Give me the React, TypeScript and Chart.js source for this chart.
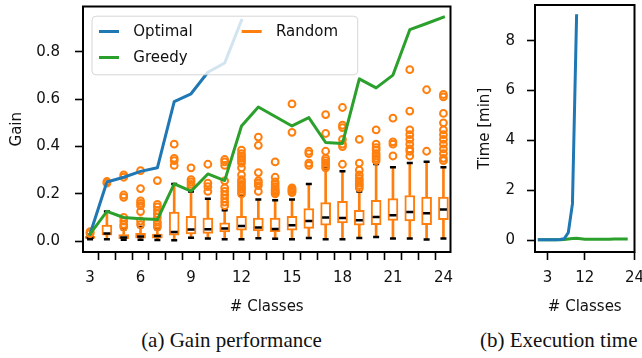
import React, { useEffect, useRef } from 'react';
import { Chart, registerables } from 'chart.js';

Chart.register(...registerables);
Chart.defaults.font.family = '"DejaVu Sans", sans-serif';
Chart.defaults.font.size = 15;
Chart.defaults.color = '#111';

// ---------- data ----------
const classes = [3, 4, 5, 6, 7, 8, 9, 10, 11, 12, 13, 14, 15, 16, 17, 18, 19, 20, 21, 22, 23, 24];
const seriesNames = ['Optimal', 'Greedy', 'Random'];

const optimalGain = [0.03, 0.25, 0.27, 0.295, 0.31, 0.59, 0.623, 0.714, 0.753, 0.933];
const greedyGain = [0.03, 0.126, 0.1, 0.095, 0.091, 0.242, 0.211, 0.284, 0.256, 0.487, 0.567, 0.527,
  0.487, 0.522, 0.417, 0.413, 0.686, 0.648, 0.702, 0.894, 0.92, 0.947];

const randomLow = [0.008, 0.008, 0.006, 0.006, 0.005, 0.004, 0.014, 0.011, 0.008, 0.008, 0.012, 0.01,
  0.008, 0.013, 0.008, 0.008, 0.013, 0.017, 0.011, 0.011, 0.007, 0.011];
const randomQ1 = [0.011, 0.025, 0.01, 0.012, 0.012, 0.025, 0.03, 0.033, 0.039, 0.046, 0.043, 0.04,
  0.046, 0.054, 0.067, 0.077, 0.067, 0.07, 0.088, 0.085, 0.07, 0.091];
const randomMedian = [0.014, 0.032, 0.015, 0.02, 0.022, 0.039, 0.049, 0.05, 0.053, 0.064, 0.058, 0.051,
  0.067, 0.085, 0.1, 0.098, 0.088, 0.102, 0.109, 0.123, 0.118, 0.134];
const randomQ3 = [0.02, 0.068, 0.028, 0.033, 0.03, 0.123, 0.105, 0.097, 0.077, 0.105, 0.097, 0.097,
  0.105, 0.138, 0.163, 0.168, 0.13, 0.172, 0.18, 0.193, 0.186, 0.186];
const randomHigh = [0.027, 0.125, 0.05, 0.06, 0.05, 0.242, 0.21, 0.179, 0.13, 0.193, 0.176, 0.173,
  0.176, 0.242, 0.308, 0.295, 0.21, 0.326, 0.312, 0.33, 0.336, 0.312];
const randomOutliers = [
  [0.032, 0.036, 0.04],
  [0.245, 0.252],
  [0.06, 0.07, 0.085, 0.1, 0.185, 0.195, 0.27, 0.28],
  [0.07, 0.085, 0.125, 0.15, 0.16, 0.17, 0.222, 0.298],
  [0.06, 0.07, 0.08, 0.1, 0.115, 0.13, 0.145, 0.155, 0.256],
  [0.32, 0.34, 0.35, 0.41],
  [0.23, 0.24, 0.25, 0.26, 0.31],
  [0.21, 0.23, 0.245, 0.325],
  [0.15, 0.165, 0.18, 0.195, 0.21, 0.225, 0.255, 0.32, 0.335, 0.345],
  [0.2, 0.21, 0.22, 0.23, 0.24, 0.25, 0.26, 0.28, 0.31, 0.33, 0.34, 0.35, 0.36, 0.37, 0.385],
  [0.21, 0.235, 0.245, 0.255, 0.29, 0.405, 0.44],
  [0.2, 0.205, 0.21, 0.215, 0.22, 0.23, 0.24, 0.25, 0.27, 0.335],
  [0.205, 0.21, 0.215, 0.22, 0.225, 0.46, 0.58],
  [0.32, 0.33, 0.37, 0.38],
  [0.31, 0.32, 0.33, 0.34, 0.35, 0.38, 0.455, 0.535],
  [0.325, 0.4, 0.41, 0.43, 0.48, 0.49, 0.565],
  [0.225, 0.235, 0.245, 0.255, 0.265, 0.28, 0.3, 0.33, 0.43],
  [0.34, 0.35, 0.36, 0.37, 0.385, 0.395, 0.41, 0.47],
  [0.36, 0.41, 0.42, 0.52],
  [0.36, 0.38, 0.39, 0.41, 0.43, 0.45, 0.47, 0.55, 0.725],
  [0.38, 0.64],
  [0.34, 0.35, 0.37, 0.39, 0.41, 0.43, 0.45, 0.47, 0.5, 0.54, 0.61, 0.62],
];

const gainTicks = [0, 0.2, 0.4, 0.6, 0.8];

// execution time panel (x positions as plotted in the original: 1..22)
const timeSteps = [1, 2, 3, 4, 5, 6, 7, 8, 9, 10, 11, 12, 13, 14, 15, 16, 17, 18, 19, 20, 21, 22];
const optimalTime = [0.01, 0.01, 0.01, 0.01, 0.01, 0.02, 0.05, 0.3, 1.45, 9.0];
const greedyTime = [0.01, 0.01, 0.01, 0.01, 0.01, 0.01, 0.02, 0.04, 0.06, 0.07, 0.05, 0.03, 0.03,
  0.03, 0.03, 0.03, 0.03, 0.03, 0.04, 0.04, 0.04, 0.04];
const timeTicks = [0, 2, 4, 6, 8];
const timeXTicks = [3, 12, 24];

// ---------- styles ----------
const BLUE = '#1f77b4';
const GREEN = '#2ca02c';
const ORANGE = '#ff7f0e';
const FONT = '"DejaVu Sans", sans-serif';

const framePlugin = {
  id: 'frame',
  afterDatasetsDraw(chart: any) {
    const { ctx, chartArea } = chart;
    ctx.save();
    ctx.strokeStyle = '#000';
    ctx.lineWidth = 2;
    ctx.strokeRect(chartArea.left, chartArea.top, chartArea.right - chartArea.left, chartArea.bottom - chartArea.top);
    ctx.restore();
  },
};

const legendPlugin = {
  id: 'gainLegend',
  afterDraw(chart: any) {
    const { ctx, chartArea } = chart;
    const x = chartArea.left + 9;
    const y = chartArea.top + 9.7;
    const w = 265.7;
    const h = 58.6;
    ctx.save();
    ctx.beginPath();
    ctx.roundRect(x, y, w, h, 4);
    ctx.fillStyle = 'rgba(255,255,255,0.8)';
    ctx.fill();
    ctx.strokeStyle = 'rgba(204,204,204,0.8)';
    ctx.lineWidth = 1;
    ctx.stroke();
    const colors = [BLUE, GREEN, ORANGE];
    const pos = [
      [x + 7, y + 15.3],
      [x + 7, y + 41.3],
      [x + 149.7, y + 15.3],
    ];
    ctx.font = '15px ' + FONT;
    ctx.textBaseline = 'middle';
    ctx.textAlign = 'left';
    seriesNames.forEach((name, i) => {
      const [px, py] = pos[i];
      ctx.beginPath();
      ctx.moveTo(px, py);
      ctx.lineTo(px + 20, py);
      ctx.strokeStyle = colors[i];
      ctx.lineWidth = 3;
      ctx.stroke();
      ctx.fillStyle = '#111';
      ctx.fillText(name, px + 34.3, py + 0.5);
    });
    ctx.restore();
  },
};

const tickGrid = {
  display: true,
  drawOnChartArea: false,
  drawTicks: true,
  tickLength: 8,
  tickWidth: 1.6,
  tickColor: '#000',
  color: '#000',
};

function GainChart() {
  const ref = useRef<HTMLCanvasElement>(null);
  useEffect(() => {
    const boxes = classes.map((c, i) => ({ x: c, y: [randomQ1[i], randomQ3[i]] }));
    const lowW = classes.map((c, i) => ({ x: c, y: [randomLow[i], randomQ1[i]] }));
    const highW = classes.map((c, i) => ({ x: c, y: [randomQ3[i], randomHigh[i]] }));
    const caps = classes.flatMap((c, i) => [{ x: c, y: randomLow[i] }, { x: c, y: randomHigh[i] }]);
    const medians = classes.map((c, i) => ({ x: c, y: randomMedian[i] }));
    const outliers = classes.flatMap((c, i) => randomOutliers[i].map((v) => ({ x: c, y: v })));

    const chart = new Chart(ref.current as HTMLCanvasElement, {
      type: 'scatter',
      data: {
        datasets: [
          {
            type: 'line', label: seriesNames[0],
            data: optimalGain.map((v, i) => ({ x: classes[i], y: v })),
            borderColor: BLUE, borderWidth: 3, pointRadius: 0, tension: 0,
            borderJoinStyle: 'round', borderCapStyle: 'square', order: 1,
          },
          {
            type: 'line', label: seriesNames[1],
            data: greedyGain.map((v, i) => ({ x: classes[i], y: v })),
            borderColor: GREEN, borderWidth: 3, pointRadius: 0, tension: 0,
            borderJoinStyle: 'round', borderCapStyle: 'square', order: 0,
          },
          {
            type: 'bar', label: 'whiskerLow', data: lowW, backgroundColor: ORANGE,
            borderWidth: 0, barThickness: 2, grouped: false, order: 10,
          },
          {
            type: 'bar', label: 'whiskerHigh', data: highW, backgroundColor: ORANGE,
            borderWidth: 0, barThickness: 2, grouped: false, order: 10,
          },
          {
            type: 'bar', label: seriesNames[2], data: boxes, backgroundColor: '#ffffff',
            borderColor: ORANGE, borderWidth: 2, borderSkipped: false, barThickness: 10,
            grouped: false, order: 9,
          },
          {
            type: 'scatter', label: 'caps', data: caps, pointStyle: 'line', pointRadius: 3,
            pointBorderWidth: 2.5, pointBorderColor: '#000', borderColor: '#000', order: 8,
          },
          {
            type: 'scatter', label: 'medians', data: medians, pointStyle: 'line', pointRadius: 3.5,
            pointBorderWidth: 2.5, pointBorderColor: '#000', borderColor: '#000', order: 8,
          },
          {
            type: 'scatter', label: 'outliers', data: outliers, pointStyle: 'circle', pointRadius: 3.4,
            pointBorderWidth: 2, pointBorderColor: ORANGE, borderColor: ORANGE,
            pointBackgroundColor: 'rgba(255,255,255,0)', order: 7,
          },
        ],
      } as any,
      options: {
        animation: false,
        responsive: false,
        devicePixelRatio: 1,
        events: [],
        layout: { padding: { left: 0, top: 5, right: 9.5, bottom: 0 } },
        plugins: { legend: { display: false }, tooltip: { enabled: false } },
        scales: {
          x: {
            type: 'linear', min: 2.58, max: 24.42, offset: false,
            afterBuildTicks: (s: any) => { s.ticks = classes.map((v) => ({ value: v })); },
            afterFit: (s: any) => { s.height = 68; s.paddingLeft = 0; s.paddingRight = 0; },
            ticks: {
              autoSkip: false, maxRotation: 0, padding: 9.5, color: '#111',
              callback: (v: any) => (Number(v) % 3 === 0 ? String(v) : ''),
            },
            grid: tickGrid,
            border: { display: false },
            title: { display: true, text: '# Classes', color: '#111', padding: { top: 0, bottom: 4 } },
          },
          y: {
            type: 'linear', min: -0.046, max: 0.992,
            afterBuildTicks: (s: any) => { s.ticks = gainTicks.map((v) => ({ value: v })); },
            afterFit: (s: any) => { s.width = 83; s.paddingTop = 0; s.paddingBottom = 0; },
            ticks: { padding: 15, color: '#111', callback: (v: any) => Number(v).toFixed(1) },
            grid: tickGrid,
            border: { display: false },
            title: { display: true, text: 'Gain', color: '#111', padding: { top: 8, bottom: 0 } },
          },
        },
      } as any,
      plugins: [framePlugin, legendPlugin],
    });
    return () => chart.destroy();
  }, []);
  return (
    <canvas ref={ref} width={460} height={320}
      style={{ position: 'absolute', left: 0, top: 0, width: 460, height: 320 }} />
  );
}

function TimeChart() {
  const ref = useRef<HTMLCanvasElement>(null);
  useEffect(() => {
    const chart = new Chart(ref.current as HTMLCanvasElement, {
      type: 'line',
      data: {
        datasets: [
          {
            label: seriesNames[1],
            data: greedyTime.map((v, i) => ({ x: timeSteps[i], y: v })),
            borderColor: GREEN, borderWidth: 3, pointRadius: 0, tension: 0,
            borderJoinStyle: 'round', borderCapStyle: 'square', order: 1,
          },
          {
            label: seriesNames[0],
            data: optimalTime.map((v, i) => ({ x: timeSteps[i], y: v })),
            borderColor: BLUE, borderWidth: 3, pointRadius: 0, tension: 0,
            borderJoinStyle: 'round', borderCapStyle: 'square', order: 0,
          },
        ],
      } as any,
      options: {
        animation: false,
        responsive: false,
        devicePixelRatio: 1,
        events: [],
        layout: { padding: { left: 0, top: 5, right: 7.5, bottom: 0 } },
        plugins: { legend: { display: false }, tooltip: { enabled: false } },
        scales: {
          x: {
            type: 'linear', min: -0.05, max: 24, offset: false,
            afterBuildTicks: (s: any) => { s.ticks = timeXTicks.map((v) => ({ value: v })); },
            afterFit: (s: any) => { s.height = 68; s.paddingLeft = 0; s.paddingRight = 0; },
            ticks: { autoSkip: false, maxRotation: 0, padding: 9.5, color: '#111', callback: (v: any) => String(v) },
            grid: tickGrid,
            border: { display: false },
            title: { display: true, text: '# Classes', color: '#111', padding: { top: 0, bottom: 4 } },
          },
          y: {
            type: 'linear', min: -0.48, max: 9.43,
            afterBuildTicks: (s: any) => { s.ticks = timeTicks.map((v) => ({ value: v })); },
            afterFit: (s: any) => { s.width = 75; s.paddingTop = 0; s.paddingBottom = 0; },
            ticks: { padding: 12, color: '#111', callback: (v: any) => String(v) },
            grid: tickGrid,
            border: { display: false },
            title: { display: true, text: 'Time [min]', color: '#111', padding: { top: 16, bottom: 0 } },
          },
        },
      } as any,
      plugins: [framePlugin],
    });
    return () => chart.destroy();
  }, []);
  return (
    <canvas ref={ref} width={182} height={320}
      style={{ position: 'absolute', left: 460, top: 0, width: 182, height: 320 }} />
  );
}

export default function App() {
  const caption: React.CSSProperties = {
    position: 'absolute', top: 328, fontFamily: '"Liberation Serif", serif', fontSize: 21,
    lineHeight: '24px', color: '#111', whiteSpace: 'nowrap',
  };
  return (
    <div style={{ position: 'absolute', left: 0, top: 0, width: 642, height: 358, overflow: 'hidden', background: '#fff' }}>
      <GainChart />
      <TimeChart />
      <div style={{ ...caption, left: 0, width: 463, textAlign: 'center' }}>(a) Gain performance</div>
      <div style={{ ...caption, left: 480 }}>(b) Execution time</div>
    </div>
  );
}
